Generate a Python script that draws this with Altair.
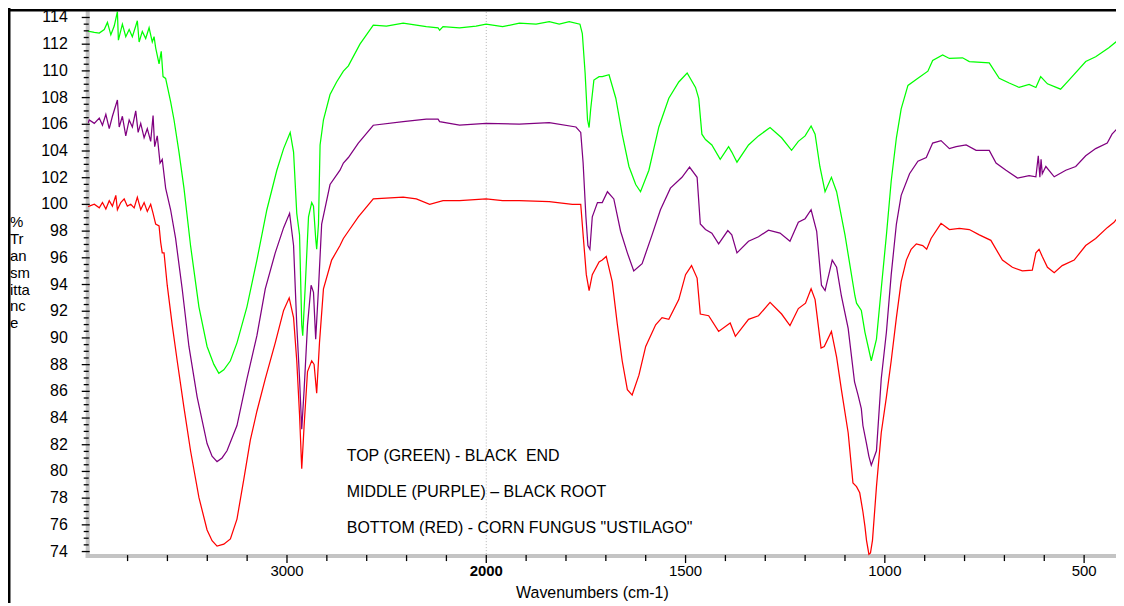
import altair as alt
import pandas as pd

# ---------------- data ----------------
WN_GREEN = [3998, 3992, 3967, 3942, 3917, 3901, 3884, 3867, 3851, 3846, 3826, 3809, 3792, 3776, 3759, 3751,
            3742, 3726, 3709, 3692, 3676, 3667, 3659, 3642, 3631, 3622, 3609, 3584, 3567, 3542, 3517, 3484,
            3442, 3401, 3367, 3342, 3317, 3284, 3251, 3201, 3151, 3101, 3051, 3017, 2984, 2967, 2951, 2937,
            2926, 2921, 2909, 2892, 2876, 2867, 2856, 2851, 2842, 2834, 2817, 2784, 2751, 2717, 2692, 2634,
            2567, 2501, 2417, 2351, 2301, 2242, 2234, 2217, 2134, 2051, 2001, 1959, 1917, 1875, 1842, 1817,
            1792, 1765, 1759, 1752, 1746, 1742, 1738, 1730, 1717, 1709, 1692, 1675, 1659, 1642, 1625, 1613,
            1592, 1567, 1542, 1517, 1496, 1475, 1467, 1459, 1450, 1434, 1413, 1392, 1384, 1371, 1342, 1317,
            1288, 1259, 1234, 1217, 1200, 1185, 1175, 1163, 1150, 1134, 1121, 1100, 1075, 1071, 1059, 1050,
            1034, 1021, 1009, 996, 984, 971, 959, 942, 917, 892, 880, 855, 838, 805, 788, 738, 713, 688, 663,
            638, 621, 609, 592, 559, 538, 496, 471, 438, 411]
T_GREEN = [113.0, 112.96, 112.88, 112.83, 113.10, 113.63, 112.70, 113.36, 114.43, 112.30, 113.50, 112.56, 113.10,
           112.56, 113.36, 113.76, 112.16, 112.96, 112.43, 113.23, 112.16, 112.56, 111.73, 110.52, 111.46, 109.57,
           109.44, 107.69, 106.34, 103.92, 101.22, 96.92, 92.33, 89.36, 88.02, 87.35, 87.61, 88.29, 89.63, 92.33,
           95.83, 99.60, 102.56, 104.18, 105.39, 103.92, 99.33, 97.72, 90.98, 90.17, 93.68, 99.07, 100.14, 99.87,
           97.45, 96.64, 98.53, 104.45, 106.34, 108.23, 109.17, 109.98, 110.38, 112.0, 113.42, 113.36, 113.58,
           113.42, 113.31, 113.23, 113.04, 113.31, 113.23, 113.36, 113.50, 113.31, 113.58, 113.50, 113.68, 113.50,
           113.68, 113.50, 112.80, 109.84, 106.34, 105.76, 107.15, 109.31, 109.57, 109.57, 109.71, 107.95, 105.26,
           102.84, 101.49, 100.95, 102.56, 105.80, 107.95, 109.17, 109.84, 108.76, 107.95, 105.26, 104.86, 104.45,
           103.37, 104.32, 103.92, 103.16, 104.45, 105.13, 105.76, 104.99, 104.05, 104.72, 105.13, 105.87, 105.26,
           102.84, 100.95, 102.03, 100.95, 97.72, 93.14, 92.60, 92.06, 90.44, 88.29, 89.91, 93.68, 97.72, 101.75,
           104.99, 107.15, 108.91, 109.44, 109.98, 110.78, 111.19, 110.93, 110.98, 110.70, 110.60, 109.44, 109.09,
           108.76, 108.99, 108.76, 109.57, 109.03, 108.63, 109.31, 110.70, 111.06, 111.73, 112.40]

WN_PURPLE = [3998, 3992, 3967, 3942, 3926, 3909, 3892, 3876, 3851, 3842, 3826, 3809, 3792, 3776, 3759, 3747,
             3734, 3717, 3701, 3684, 3672, 3664, 3651, 3637, 3626, 3609, 3584, 3559, 3526, 3492, 3451, 3401,
             3376, 3351, 3326, 3301, 3251, 3201, 3151, 3109, 3059, 3017, 2987, 2967, 2951, 2937, 2926, 2914,
             2897, 2879, 2867, 2856, 2842, 2826, 2784, 2734, 2717, 2692, 2642, 2567, 2417, 2301, 2242, 2234,
             2134, 2001, 1917, 1842, 1775, 1763, 1757, 1750, 1745, 1740, 1734, 1721, 1709, 1696, 1680, 1663,
             1646, 1630, 1609, 1584, 1563, 1538, 1509, 1490, 1471, 1463, 1450, 1434, 1417, 1394, 1384, 1371,
             1342, 1317, 1292, 1263, 1238, 1217, 1200, 1185, 1171, 1159, 1150, 1132, 1121, 1109, 1092, 1076,
             1067, 1059, 1055, 1046, 1040, 1034, 1021, 1009, 996, 984, 971, 959, 938, 917, 896, 880, 859, 838,
             821, 796, 771, 738, 721, 696, 667, 638, 621, 615, 611, 608, 605, 596, 575, 546, 521, 496, 471, 442,
             430, 417, 411]
T_PURPLE = [106.1, 106.33, 106.07, 106.47, 105.93, 106.74, 105.67, 106.60, 107.82, 105.80, 106.60, 105.13, 106.33,
            105.80, 107.01, 105.39, 106.07, 104.99, 105.67, 104.72, 106.66, 104.32, 105.13, 103.10, 103.37, 101.22,
            99.60, 97.45, 93.68, 89.36, 85.59, 82.09, 81.14, 80.74, 81.01, 81.55, 83.44, 86.94, 90.17, 93.68, 96.37,
            98.26, 99.33, 96.92, 90.98, 86.94, 83.16, 86.13, 90.98, 93.95, 93.41, 89.91, 93.68, 98.53, 101.49,
            102.56, 103.10, 103.51, 104.59, 105.93, 106.20, 106.39, 106.39, 106.20, 105.93, 106.07, 106.01, 106.12,
            105.80, 105.39, 103.10, 99.07, 96.92, 96.64, 99.07, 100.14, 100.14, 100.95, 100.41, 97.99, 96.37, 95.02,
            95.56, 97.72, 99.60, 101.22, 102.03, 102.79, 102.03, 98.53, 98.12, 97.85, 97.04, 98.04, 97.72, 96.37,
            97.24, 97.58, 98.07, 97.85, 97.24, 98.66, 98.93, 99.60, 97.99, 93.95, 93.55, 95.83, 95.29, 93.14, 90.71,
            86.7, 85.7, 84.7, 83.44, 82.09, 81.13, 80.47, 81.55, 86.94, 90.44, 94.74, 98.53, 100.68, 102.30, 103.24,
            103.51, 104.59, 104.78, 104.18, 104.32, 104.45, 104.05, 104.05, 103.10, 102.56, 101.97, 102.16, 102.07,
            103.64, 102.03, 103.37, 102.30, 102.84, 102.07, 102.56, 102.84, 103.64, 104.18, 104.59, 105.26, 105.67,
            104.86]

WN_RED = [3998, 3992, 3967, 3942, 3926, 3909, 3892, 3876, 3859, 3851, 3834, 3817, 3801, 3784, 3767, 3751, 3734,
          3717, 3701, 3684, 3672, 3659, 3642, 3634, 3626, 3617, 3601, 3576, 3551, 3517, 3484, 3442, 3401, 3376,
          3351, 3317, 3284, 3251, 3217, 3184, 3151, 3109, 3059, 3017, 2989, 2967, 2951, 2937, 2926, 2914, 2897,
          2876, 2864, 2851, 2837, 2817, 2776, 2734, 2717, 2692, 2642, 2567, 2417, 2351, 2284, 2217, 2134, 2001,
          1959, 1917, 1842, 1784, 1763, 1757, 1749, 1742, 1734, 1717, 1709, 1699, 1684, 1671, 1659, 1646, 1634,
          1617, 1600, 1575, 1559, 1542, 1517, 1500, 1485, 1471, 1463, 1442, 1417, 1388, 1375, 1342, 1317, 1288,
          1259, 1238, 1217, 1199, 1185, 1175, 1160, 1152, 1134, 1121, 1109, 1092, 1080, 1071, 1063, 1055, 1050,
          1046, 1040, 1036, 1031, 1021, 1009, 996, 984, 971, 959, 946, 934, 921, 905, 895, 884, 859, 838, 813,
          788, 763, 734, 705, 680, 655, 630, 621, 613, 605, 592, 575, 555, 525, 496, 471, 442, 425, 411]
T_RED = [99.84, 99.87, 100.01, 99.74, 100.14, 99.66, 100.28, 99.87, 100.68, 99.60, 100.14, 100.41, 99.87, 100.01,
         99.74, 100.54, 99.60, 100.14, 99.47, 100.01, 99.33, 98.53, 98.39, 97.18, 96.37, 96.37, 93.95, 90.98, 88.29,
         84.78, 81.55, 78.05, 75.62, 74.81, 74.41, 74.55, 74.95, 76.43, 79.39, 82.35, 84.51, 86.94, 89.63, 92.06,
         93.00, 91.52, 88.29, 84.24, 80.20, 83.44, 87.48, 88.29, 88.02, 85.86, 89.63, 93.68, 95.83, 96.92, 97.45,
         97.99, 99.07, 100.41, 100.54, 100.41, 100.01, 100.28, 100.28, 100.41, 100.28, 100.28, 100.20, 100.01,
         100.01, 97.72, 94.74, 93.55, 94.74, 95.69, 95.83, 96.10, 94.21, 90.98, 88.29, 86.13, 85.72, 87.21, 89.36,
         90.98, 91.52, 91.39, 92.87, 94.74, 95.42, 94.48, 91.79, 91.66, 90.49, 91.12, 90.12, 91.39, 91.66, 92.66,
         91.79, 90.93, 92.20, 92.60, 93.68, 92.87, 89.24, 89.36, 90.49, 88.56, 86.13, 82.90, 79.13, 78.86, 78.4,
         76.98, 75.9, 74.84, 73.8, 73.9, 74.84, 78.86, 82.90, 85.59, 88.29, 91.52, 94.21, 95.83, 96.64, 97.04,
         96.92, 96.64, 97.45, 98.58, 98.12, 98.21, 98.12, 97.72, 97.31, 95.83, 95.29, 95.02, 95.08, 96.37, 96.64,
         96.10, 95.29, 94.88, 95.42, 95.83, 96.92, 97.45, 98.26, 98.66, 99.20]

SERIES = ["green", "purple", "red"]
SERIES_COLORS = ["#00ff00", "#800080", "#ff0000"]

NOTE_TEXT = ['TOP (GREEN) - BLACK\u00a0 END', 'MIDDLE (PURPLE) \u2013 BLACK ROOT', 'BOTTOM (RED) - CORN FUNGUS "USTILAGO"']
NOTE_WN = [2700, 2700, 2700]
NOTE_T = [81.13, 78.44, 75.75]

# axis ticks and tick labels
X_LABELED = [3000, 2000, 1500, 1000, 500]
X_LABEL_TEXT = ["3000", "2000", "1500", "1000", "500"]
X_LABEL_BOLD = [False, True, False, False, False]
X_MINOR = [3800, 3600, 3400, 3200, 2800, 2600, 2400, 2200, 1900, 1800, 1700, 1600,
           1400, 1300, 1200, 1100, 900, 800, 700, 600]
Y_LABELED = list(range(74, 115, 2))
Y_LABEL_TEXT = [str(v) for v in Y_LABELED]
Y_MINOR = [v + d for v in range(74, 114, 2) for d in (0.5, 1.0, 1.5)]
Y_TITLE = "%\nTr\nan\nsm\nitta\nnc\ne"
X_TITLE = "Wavenumbers (cm-1)"

# ---------------- build tables ----------------
frames = []
for name, wn, t in [("green", WN_GREEN, T_GREEN), ("purple", WN_PURPLE, T_PURPLE), ("red", WN_RED, T_RED)]:
    frames.append(pd.DataFrame({"wn": wn, "t": t, "series": name}))
df = pd.concat(frames, ignore_index=True)
notes = pd.DataFrame({"wn": NOTE_WN, "t": NOTE_T, "label": NOTE_TEXT})
one = pd.DataFrame({"wn": [2000]})
xlab = pd.DataFrame({"wn": X_LABELED, "label": X_LABEL_TEXT, "bold": X_LABEL_BOLD})
xminor = pd.DataFrame({"wn": X_MINOR})
ylab = pd.DataFrame({"t": Y_LABELED, "label": Y_LABEL_TEXT})
yminor = pd.DataFrame({"t": Y_MINOR})
single = pd.DataFrame({"k": [0]})

FONT = "Liberation Sans"
H = 549
W = 1032
AXIS_GREY = "#c4c4c4"

xscale = alt.Scale(domain=[4000, 2000, 420], range=[0, 400, W], nice=False, zero=False)
yscale = alt.Scale(domain=[73.66, 114.63], nice=False, zero=False)

X = lambda: alt.X("wn:Q", scale=xscale, axis=None)
Y = lambda: alt.Y("t:Q", scale=yscale, axis=None)

# axis bands (grey axis lines as in the original software)
x_band = alt.Chart(single).mark_rule(color=AXIS_GREY, strokeWidth=4).encode(
    x=alt.value(-2), x2=alt.value(W), y=alt.value(H))
y_band = alt.Chart(single).mark_rule(color=AXIS_GREY, strokeWidth=4).encode(
    x=alt.value(0), y=alt.value(0), y2=alt.value(H + 2))

divider = alt.Chart(one).mark_rule(color="#b4b4b4", strokeWidth=1, strokeDash=[1, 2]).encode(x=X())

lines = alt.Chart(df).mark_line(clip=True, strokeWidth=1.25).encode(
    x=X(), y=Y(),
    color=alt.Color("series:N", scale=alt.Scale(domain=SERIES, range=SERIES_COLORS), legend=None),
)

x_major = alt.Chart(xlab).mark_rule(color="black", strokeWidth=1.3).encode(
    x=X(), y=alt.value(H - 1), y2=alt.value(H + 7))
x_minor = alt.Chart(xminor).mark_rule(color="black", strokeWidth=1.3).encode(
    x=X(), y=alt.value(H - 1), y2=alt.value(H + 5))
y_major = alt.Chart(ylab).mark_rule(color="black", strokeWidth=1.3).encode(
    y=Y(), x=alt.value(-6), x2=alt.value(2))
y_minor = alt.Chart(yminor).mark_rule(color="black", strokeWidth=1.3).encode(
    y=Y(), x=alt.value(-4), x2=alt.value(1))

x_labels = alt.Chart(xlab).transform_filter("!datum.bold").mark_text(
    baseline="top", align="center", fontSize=15, font=FONT, color="black").encode(
    x=X(), y=alt.value(H + 8), text="label:N")
x_labels_bold = alt.Chart(xlab).transform_filter("datum.bold").mark_text(
    baseline="top", align="center", fontSize=15, font=FONT, fontWeight="bold", color="black").encode(
    x=X(), y=alt.value(H + 8), text="label:N")
y_labels = alt.Chart(ylab).mark_text(
    baseline="middle", align="right", fontSize=16, font=FONT, color="black").encode(
    y=Y(), x=alt.value(-20), text="label:N")

x_title = alt.Chart(single).mark_text(
    text=X_TITLE, baseline="alphabetic", align="center", fontSize=16, font=FONT, color="black").encode(
    x=alt.value(506.5), y=alt.value(H + 42))
y_title = alt.Chart(single).mark_text(
    text=Y_TITLE, lineBreak="\n", lineHeight=17, baseline="top", align="left", fontSize=15, font=FONT,
    color="black").encode(x=alt.value(-78), y=alt.value(206.5))

texts = alt.Chart(notes).mark_text(align="left", baseline="middle", fontSize=16, font=FONT, color="black").encode(
    x=X(), y=Y(), text="label:N")

frame_left = alt.Chart(single).mark_rule(color="black", strokeWidth=2.5).encode(
    x=alt.value(-78.75), y=alt.value(-10), y2=alt.value(700))
frame_top = alt.Chart(single).mark_rule(color="black", strokeWidth=2.5).encode(
    x=alt.value(-90), x2=alt.value(1100), y=alt.value(1.25))

chart = alt.layer(
    x_band, y_band, divider, lines, x_major, x_minor, y_major, y_minor,
    x_labels, x_labels_bold, y_labels, x_title, y_title, texts, frame_left, frame_top,
).properties(
    width=W, height=H,
    padding={"left": 80, "top": 0, "right": 0, "bottom": 46},
    autosize=alt.AutoSizeParams(type="none"),
).configure(background="white").configure_view(stroke=None)

chart.save("out.html", embed_options={"renderer": "svg", "actions": False})
